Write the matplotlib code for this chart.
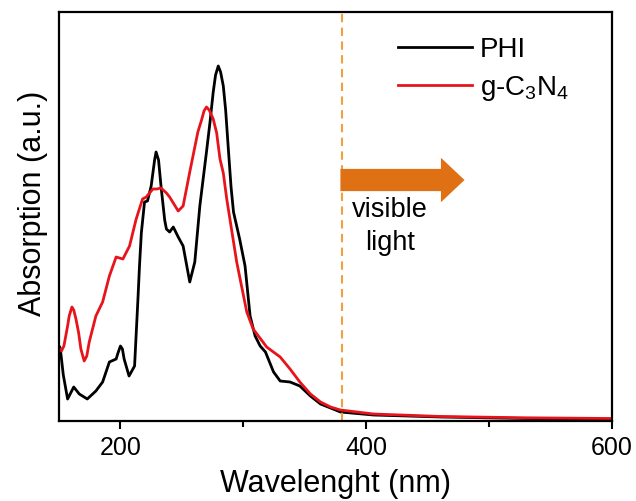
import matplotlib
matplotlib.use('Agg')
import matplotlib.pyplot as plt
from matplotlib.ticker import MultipleLocator
from matplotlib.lines import Line2D

plt.rcParams['font.family'] = ['Liberation Sans', 'DejaVu Sans']
plt.rcParams['mathtext.fontset'] = 'custom'
plt.rcParams['mathtext.rm'] = 'Liberation Sans'
plt.rcParams['mathtext.it'] = 'Liberation Sans:italic'

# ---- data ----
phi_nm = [150, 151, 153.5, 157, 162, 166.5, 173, 180, 185.5, 191, 196.5, 198, 200, 201.6,
          203, 207, 211.5, 214.2, 215.5, 217, 219.6, 222, 225, 227.8, 229, 231, 233, 236,
          237.4, 240, 243, 247, 251, 256.4, 260.5, 264.6, 270, 272.8, 275.5, 277.4,
          279.6, 281.5, 283.7, 285.6, 287.8, 290, 292, 297, 301.4, 305.5, 309.6,
          313.7, 318, 324.6, 330, 338, 346, 354.6, 362.8, 371, 379, 406, 461, 530, 600]
phi_abs = [75, 73, 46, 22, 34, 27, 22, 30, 39, 59, 62, 68, 75, 72,
           62, 45, 55, 121, 155, 188, 219, 220, 235, 261, 269, 261, 235, 201,
           192, 189, 194, 184, 175, 139, 159, 215, 269, 298, 329, 346,
           355, 349, 335, 311, 272, 234, 209, 182, 155, 105, 85,
           75, 69, 49, 40, 39, 35, 25, 17, 13, 9, 6, 4, 2.5, 1.5]

cn_nm = [150, 152, 154, 157, 158.3, 160.5, 162, 163.8, 166, 167.8, 170.5, 172.6, 174.6,
         180, 185.5, 191, 196.5, 202, 207.4, 212.8, 218, 221, 226.4, 229.7, 233, 237.4,
         240, 244, 247, 251, 256.4, 263, 266, 268, 270, 272.2, 275.5, 278.3, 281,
         283.7, 286.5, 294.6, 302.8, 308, 319, 330, 338, 346, 354.6, 362.8, 371, 379,
         406, 461, 530, 600]
cn_abs = [73, 70, 75, 95, 105, 114, 111, 102, 88, 72, 60, 65, 79,
          105, 119, 145, 164, 162, 175, 202, 222, 224, 232, 232, 233, 228,
          224, 216, 210, 215, 249, 289, 301, 310, 314, 311, 302, 288, 262,
          248, 222, 159, 109, 92, 74, 64, 52, 39, 27, 19, 14, 11,
          7, 4.5, 3.2, 2.5]

series_labels = ['PHI', 'g-C$_3$N$_4$']
xticks = [200, 400, 600]
visible_edge = 380

fig = plt.figure(figsize=(6.36, 5.01), dpi=100)
ax = fig.add_axes([59/636, (501-421)/501, (612-59)/636, (421-12)/501])

ax.plot(phi_nm, phi_abs, color='black', lw=2.0, solid_joinstyle='round')
ax.plot(cn_nm, cn_abs, color='#E8141C', lw=2.0, solid_joinstyle='round')

ax.axvline(visible_edge, color='#F0A040', lw=1.5, dashes=(4, 2.6))

ax.annotate('', xy=(480, 241), xytext=(379, 241),
            arrowprops=dict(arrowstyle='simple,head_width=1.6,head_length=0.85,tail_width=0.8',
                            mutation_scale=20, color='#E07014', lw=0,
                            shrinkA=0, shrinkB=0))
ax.text(419, 211, 'visible', ha='center', va='center', fontsize=19.5)
ax.text(419, 178, 'light', ha='center', va='center', fontsize=19.5)

ax.set_xlim(150, 600)
ax.set_ylim(0, 409)
ax.set_xticks(xticks)
ax.xaxis.set_minor_locator(MultipleLocator(100))
ax.set_yticks([])
ax.tick_params(axis='x', which='major', direction='out', length=6, width=1.5,
               labelsize=18, pad=5)
ax.tick_params(axis='x', which='minor', direction='out', length=4, width=1.5)
for s in ax.spines.values():
    s.set_linewidth(1.6)

ax.set_xlabel('Wavelenght (nm)', fontsize=22, labelpad=6)
ax.set_ylabel('Absorption (a.u.)', fontsize=22)
ax.yaxis.set_label_coords(-0.02, 0.532)

handles = [Line2D([], [], color='black', lw=2.0),
           Line2D([], [], color='#E8141C', lw=2.0)]
ax.legend(handles, series_labels, loc='upper left', bbox_to_anchor=(0.613, 0.94),
          frameon=False, fontsize=20, handlelength=2.66, handletextpad=0.3,
          labelspacing=0.4, borderpad=0, borderaxespad=0)

fig.savefig('out.png', dpi=100, facecolor='white')
